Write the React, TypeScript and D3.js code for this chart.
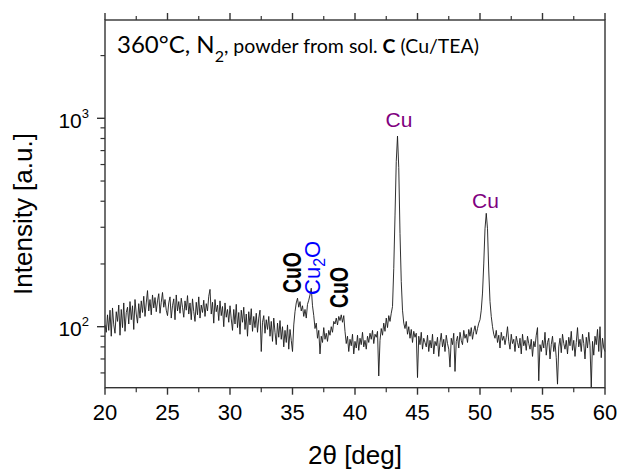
import React from 'react';
import * as d3 from 'd3';

// 2θ grid: start 20°, step 0.1°
const X_START = 20;
const X_STEP = 0.1;

// Measured intensity (a.u.), 20.0° … 60.0° in 0.1° steps
const intensity: number[] = [
  102, 94, 114, 96, 120, 90, 123, 102, 93, 118,
  106, 127, 91, 121, 99, 130, 95, 117, 124, 103,
  132, 108, 126, 97, 135, 115, 104, 129, 110, 133,
  117, 140, 112, 130, 149, 119, 135, 114, 142, 123,
  138, 118, 133, 144, 116, 131, 146, 124, 135, 120,
  113, 130, 139, 110, 126, 136, 108, 142, 119, 132,
  116, 137, 124, 111, 133, 120, 141, 115, 130, 108,
  136, 118, 106, 131, 114, 139, 110, 127, 117, 134,
  112, 129, 119, 140, 151, 115, 131, 104, 135, 118,
  127, 107, 133, 113, 125, 100, 130, 111, 121, 105,
  126, 109, 96, 121, 103, 128, 99, 117, 92, 120,
  105, 124, 97, 115, 90, 118, 102, 122, 95, 112,
  99, 116, 94, 110, 120, 76, 105, 113, 93, 108,
  97, 112, 90, 106, 85, 110, 94, 82, 104, 89,
  107, 87, 100, 80, 96, 84, 102, 78, 97, 86,
  76, 102, 118, 130, 137, 124, 132, 119, 126, 112,
  121, 110, 128, 134, 142, 153, 126, 113, 98, 104,
  88, 96, 74, 90, 84, 99, 87, 93, 85, 96,
  91, 100, 94, 106, 103, 110, 102, 112, 107, 114,
  105, 113, 95, 83, 90, 76, 87, 81, 92, 74,
  85, 79, 91, 77, 88, 82, 94, 80, 86, 78,
  90, 84, 93, 87, 96, 83, 92, 89, 95, 58,
  86, 98, 91, 104, 95, 110, 99, 113, 106, 116,
  125, 190, 340, 620, 822, 580, 280, 165, 120, 104,
  98, 106, 92, 100, 88, 97, 84, 95, 89, 93,
  57, 90, 82, 94, 78, 88, 84, 80, 91, 76,
  86, 79, 92, 74, 85, 81, 89, 72, 84, 93,
  80, 87, 76, 91, 83, 78, 64, 88, 82, 93,
  61, 85, 90, 79, 94, 86, 82, 96, 88, 92,
  84, 97, 90, 99, 87, 95, 101, 92, 98, 104,
  108, 120, 145, 200, 295, 350, 295, 185, 132, 112,
  100, 92, 88, 96, 84, 91, 79, 94, 86, 90,
  82, 89, 100, 85, 78, 92, 83, 87, 76, 90,
  84, 79, 88, 74, 92, 81, 86, 77, 90, 83,
  78, 87, 72, 85, 80, 91, 99, 55, 82, 76,
  86, 79, 94, 73, 84, 88, 70, 82, 90, 76,
  84, 71, 53, 80, 88, 75, 92, 83, 78, 86,
  74, 89, 81, 95, 77, 86, 72, 84, 99, 80,
  87, 76, 92, 83, 70, 89, 79, 94, 81, 51,
  85, 73, 90, 82, 97, 76, 100, 71, 88, 79,
  76,
];

const xTickValues = [20, 25, 30, 35, 40, 45, 50, 55, 60];
const xMinorValues = [22.5, 27.5, 32.5, 37.5, 42.5, 47.5, 52.5, 57.5];
const yMajorValues = [100, 1000];
const yMajorExponents = ['2', '3'];
const yMinorValues = [60, 70, 80, 90, 200, 300, 400, 500, 600, 700, 800, 900, 2000];

// Phase annotations
const rotatedLabels = [
  { text: 'CuO', sub: '', rest: '', x: 35.7, y: 145, color: '#000', bold: true },
  { text: 'Cu', sub: '2', rest: 'O', x: 37.2, y: 142, color: '#0000ff', bold: false },
  { text: 'CuO', sub: '', rest: '', x: 39.47, y: 123, color: '#000', bold: true },
];
const peakLabels = [
  { text: 'Cu', x: 43.52, y: 905 },
  { text: 'Cu', x: 50.44, y: 370 },
];

export default function App() {
  const W = 619, H = 471;
  const left = 105, right = 605, top = 20, bottom = 387.7;
  const x = d3.scaleLinear().domain([20, 60]).range([left, right]);
  const y = d3.scaleLog().domain([50.96, 2963]).range([bottom, top]);

  const pts = intensity.map((v, i) => [X_START + i * X_STEP, v] as [number, number]);
  const line = d3.line<[number, number]>().x(d => x(d[0])).y(d => y(d[1]));

  const axisColor = '#333';
  const sans = '"Liberation Sans", Arial, sans-serif';

  return (
    <svg width={W} height={H} style={{ position: 'absolute', left: 0, top: 0, background: '#fff' }}>
      <rect x={0} y={0} width={W} height={H} fill="#fff" />
      {/* data */}
      <path d={line(pts) || ''} fill="none" stroke="#1a1a1a" strokeWidth={0.9} strokeLinejoin="round" />

      {/* frame */}
      <rect x={left} y={top} width={right - left} height={bottom - top} fill="none" stroke={axisColor} strokeWidth={1.4} />

      {/* x ticks bottom & top */}
      {xTickValues.map(v => (
        <g key={'xt' + v}>
          <line x1={x(v)} x2={x(v)} y1={bottom} y2={bottom + 7} stroke={axisColor} strokeWidth={1.4} />
          <line x1={x(v)} x2={x(v)} y1={top} y2={top - 7} stroke={axisColor} strokeWidth={1.4} />
          <text x={x(v)} y={bottom + 32.5} textAnchor="middle" fontFamily={sans} fontSize={22} fill="#000">{v}</text>
        </g>
      ))}
      {xMinorValues.map(v => (
        <g key={'xm' + v}>
          <line x1={x(v)} x2={x(v)} y1={bottom} y2={bottom + 4.5} stroke={axisColor} strokeWidth={1.2} />
          <line x1={x(v)} x2={x(v)} y1={top} y2={top - 4} stroke={axisColor} strokeWidth={1.2} />
        </g>
      ))}

      {/* y ticks */}
      {yMajorValues.map((v, i) => (
        <g key={'yt' + v}>
          <line x1={left} x2={left - 8} y1={y(v)} y2={y(v)} stroke={axisColor} strokeWidth={1.4} />
          <text x={89} y={y(v) + 9.5} textAnchor="end" fontFamily={sans} fontSize={21} fill="#000">
            10<tspan fontSize={13} dy={-10}>{yMajorExponents[i]}</tspan>
          </text>
        </g>
      ))}
      {yMinorValues.map(v => (
        <line key={'ym' + v} x1={left} x2={left - 4.5} y1={y(v)} y2={y(v)} stroke={axisColor} strokeWidth={1.2} />
      ))}

      {/* axis titles */}
      <text x={355} y={464} textAnchor="middle" fontFamily={sans} fontSize={26} fill="#000">2θ [deg]</text>
      <text transform={`translate(32,214) rotate(-90)`} textAnchor="middle" fontFamily={sans} fontSize={26} fill="#000">Intensity [a.u.]</text>

      {/* sample title */}
      <text x={117} y={53} fontFamily="Lato, 'Open Sans', sans-serif" fill="#000">
        <tspan fontSize={24}>360°C, N</tspan>
        <tspan fontSize={16} dy={9}>2</tspan>
        <tspan fontSize={19.5} dy={-9}>, powder from sol. </tspan>
        <tspan fontSize={19.5} fontWeight="bold">C</tspan>
        <tspan fontSize={19.5}> (Cu/TEA)</tspan>
      </text>

      {/* rotated phase labels */}
      {rotatedLabels.map((l, i) => (
        <text key={'rl' + i} transform={`translate(${x(l.x)},${y(l.y)}) rotate(-90)`}
          fontFamily={sans} fontSize={l.bold ? 25 : 22} fontWeight={l.bold ? 'bold' : 'normal'} fill={l.color}
          {...(l.bold ? { textLength: 41, lengthAdjust: 'spacingAndGlyphs' } : {})}>
          {l.text}
          {l.sub ? <tspan fontSize={16} dy={5}>{l.sub}</tspan> : null}
          {l.rest ? <tspan dy={-5}>{l.rest}</tspan> : null}
        </text>
      ))}

      {/* Cu peak labels */}
      {peakLabels.map((l, i) => (
        <text key={'pl' + i} x={x(l.x)} y={y(l.y)} textAnchor="middle" fontFamily={sans} fontSize={21} fill="#800080">{l.text}</text>
      ))}
    </svg>
  );
}
